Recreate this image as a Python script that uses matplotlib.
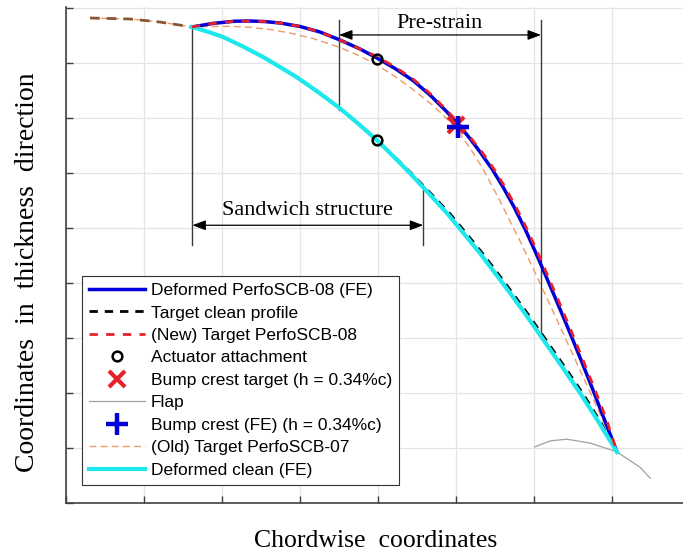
import numpy as np
import matplotlib
matplotlib.use("Agg")
import matplotlib.pyplot as plt

# odczyty z wykresu (jednostki = oczka siatki)
lead_x = [0.308, 0.821, 1.205, 1.615]
lead_y = [8.818, 8.800, 8.745, 8.655]

fe_x = [1.615, 1.885, 2.167, 2.359, 2.551, 2.744, 3.000, 3.256, 3.513, 3.769,
        3.987, 4.218, 4.449, 4.667, 4.885, 5.026, 5.179, 5.308, 5.462, 5.603,
        5.744, 5.885, 6.013, 6.141, 6.295, 6.462, 6.603, 6.756, 6.910, 7.064]
fe_y = [8.655, 8.720, 8.760, 8.764, 8.753, 8.727, 8.664, 8.564, 8.418, 8.255,
        8.091, 7.900, 7.682, 7.418, 7.109, 6.891, 6.627, 6.382, 6.073, 5.745,
        5.382, 4.982, 4.582, 4.164, 3.655, 3.091, 2.600, 2.055, 1.491, 0.927]

new_x = [1.615, 1.885, 2.167, 2.359, 2.551, 2.744, 3.000, 3.256, 3.513, 3.769,
         3.987, 4.218, 4.449, 4.667, 4.885, 5.026, 5.179, 5.333, 5.487, 5.628,
         5.769, 5.910, 6.038, 6.167, 6.321, 6.487, 6.628, 6.782, 6.936, 7.064]
new_y = [8.655, 8.720, 8.760, 8.764, 8.753, 8.727, 8.664, 8.564, 8.418, 8.255,
         8.118, 7.927, 7.709, 7.445, 7.136, 6.918, 6.655, 6.382, 6.073, 5.745,
         5.382, 4.982, 4.582, 4.164, 3.655, 3.091, 2.600, 2.055, 1.491, 0.927]

old_x = [0.308, 0.821, 1.205, 1.615, 1.846, 2.103, 2.359, 2.615, 2.872, 3.167,
         3.513, 3.769, 3.987, 4.218, 4.449, 4.667, 4.795, 4.923, 5.051, 5.179,
         5.308, 5.436, 5.564, 5.692, 5.821, 6.013, 6.205, 6.397, 6.590, 6.821, 7.064]
old_y = [8.818, 8.800, 8.745, 8.655, 8.664, 8.667, 8.649, 8.609, 8.545, 8.445,
         8.282, 8.127, 7.964, 7.755, 7.518, 7.273, 7.109, 6.927, 6.709, 6.455,
         6.164, 5.836, 5.491, 5.127, 4.764, 4.191, 3.604, 3.011, 2.418, 1.698, 0.927]

clean_fe_x = [1.615, 1.808, 2.013, 2.269, 2.526, 2.744, 2.962, 3.231, 3.513, 3.744,
              3.987, 4.192, 4.410, 4.641, 4.885, 5.090, 5.308, 5.500, 5.692, 5.885,
              6.077, 6.333, 6.590, 6.821, 7.064]
clean_fe_y = [8.655, 8.573, 8.473, 8.300, 8.109, 7.927, 7.738, 7.473, 7.175, 6.900,
              6.596, 6.309, 5.996, 5.645, 5.269, 4.918, 4.540, 4.182, 3.820, 3.445,
              3.056, 2.533, 2.002, 1.491, 0.927]

clean_x = [1.615, 1.808, 2.013, 2.269, 2.526, 2.744, 2.962, 3.231, 3.513, 3.744,
           3.987, 4.200, 4.426, 4.665, 4.917, 5.122, 5.340, 5.532, 5.724, 5.917,
           6.109, 6.365, 6.622, 6.845, 7.064]
clean_y = [8.655, 8.573, 8.473, 8.300, 8.109, 7.927, 7.738, 7.473, 7.175, 6.900,
           6.596, 6.309, 5.996, 5.645, 5.269, 4.918, 4.540, 4.182, 3.820, 3.445,
           3.056, 2.533, 2.002, 1.491, 0.927]

flap_x = [6.01, 6.21, 6.42, 6.72, 7.06, 7.36, 7.49]
flap_y = [1.02, 1.13, 1.16, 1.09, 0.93, 0.65, 0.45]

act_x = [3.99, 3.99]
act_y = [8.07, 6.60]

crest_target = (5.00, 6.87)
crest_fe = (5.03, 6.84)

fig = plt.figure(figsize=(6.83, 5.54), dpi=100)
ax = fig.add_axes([66 / 683, 51 / 554, 617 / 683, 496 / 554])

serif = ["Liberation Serif", "DejaVu Serif"]
sans = ["Liberation Sans", "DejaVu Sans"]

# linie konstrukcyjne i strzalki
vc = "#3a3a3a"
ax.plot([1.62, 1.62], [8.65, 4.69], color=vc, lw=1.0, zorder=2)
ax.plot([4.58, 4.58], [5.69, 4.69], color=vc, lw=1.0, zorder=2)
ax.plot([3.50, 3.50], [8.78, 7.15], color=vc, lw=1.0, zorder=2)
ax.plot([6.09, 6.09], [8.78, 3.00], color=vc, lw=1.0, zorder=2)
arw = dict(arrowstyle="<|-|>,head_length=0.8,head_width=0.3", color="black",
           lw=0.9, shrinkA=0, shrinkB=0)
ax.annotate("", xy=(1.62, 5.05), xytext=(4.58, 5.05), arrowprops=arw)
ax.annotate("", xy=(3.50, 8.51), xytext=(6.09, 8.51), arrowprops=arw)
ax.text(3.09, 5.236, "Sandwich structure", family=serif, fontsize=16,
        ha="center", va="baseline")
ax.text(4.79, 8.636, "Pre-strain", family=serif, fontsize=16,
        ha="center", va="baseline")

# krzywe
h8, = ax.plot(old_x, old_y, color="#ee9a6a", ls=(0, (5, 3)), lw=1.0, zorder=3,
              label="(Old) Target PerfoSCB-07")
ax.plot(lead_x, lead_y, color="#8a5535", ls=(0, (3.5, 2.5)), lw=2.0, zorder=3.2)
h2, = ax.plot(clean_x, clean_y, color="black", ls=(0, (3, 2.5)), lw=2.0, zorder=3.5,
              label="Target clean profile")
h1, = ax.plot(fe_x, fe_y, color="#0000d8", lw=2.5, zorder=4,
              label="Deformed PerfoSCB-08 (FE)")
h9, = ax.plot(clean_fe_x, clean_fe_y, color="#1ee8ec", lw=3.0, zorder=4,
              label="Deformed clean (FE)")
h3, = ax.plot(new_x, new_y, color="#e8202a", ls=(0, (3, 3)), lw=2.0, zorder=5,
              label="(New) Target PerfoSCB-08")
h6, = ax.plot(flap_x, flap_y, color="#a0a0a0", lw=0.9, zorder=2, label="Flap")
h4, = ax.plot(act_x, act_y, ls="none", marker="o", ms=7, mfc="none", mec="black",
              mew=1.8, zorder=7, label="Actuator attachment")
h5, = ax.plot(*crest_target, ls="none", marker="x", ms=12, mew=3, color="#e8202a",
              zorder=6, label="Bump crest target (h = 0.34%c)")
h7, = ax.plot(*crest_fe, ls="none", marker="+", ms=16, mew=3.2, color="#0000d8",
              zorder=7, label="Bump crest (FE) (h = 0.34%c)")

# osie
ax.set_xlim(0, 617 / 78)
ax.set_ylim(0, 496 / 55)
ax.set_xticks(np.arange(0, 8))
ax.set_yticks(np.arange(0, 10))
ax.tick_params(direction="in", length=5, width=1.0, color="#404040",
               labelbottom=False, labelleft=False)
ax.grid(True, color="#e4e4e4", lw=0.9)
ax.set_axisbelow(True)
for s in ["top", "right"]:
    ax.spines[s].set_visible(False)
for s in ["left", "bottom"]:
    ax.spines[s].set_color("#404040")
    ax.spines[s].set_linewidth(1.2)

ax.set_xlabel("Chordwise  coordinates", family=serif, fontsize=18.5)
ax.set_ylabel("Coordinates  in  thickness  direction", family=serif, fontsize=20)
ax.xaxis.set_label_coords(0.502, -0.055)
ax.yaxis.set_label_coords(-0.042, 0.465)

leg = ax.legend(handles=[h1, h2, h3, h4, h5, h6, h7, h8, h9],
                loc="upper left", bbox_to_anchor=(16 / 617, 227 / 496),
                prop={"family": sans, "size": 12.5}, frameon=True, fancybox=False,
                framealpha=1, edgecolor="#333333", handlelength=3.2,
                handletextpad=0.35, labelspacing=0.42, borderpad=0.4,
                borderaxespad=0)
leg.get_frame().set_linewidth(0.8)
leg.set_zorder(10)

fig.savefig("out.png", dpi=100)
